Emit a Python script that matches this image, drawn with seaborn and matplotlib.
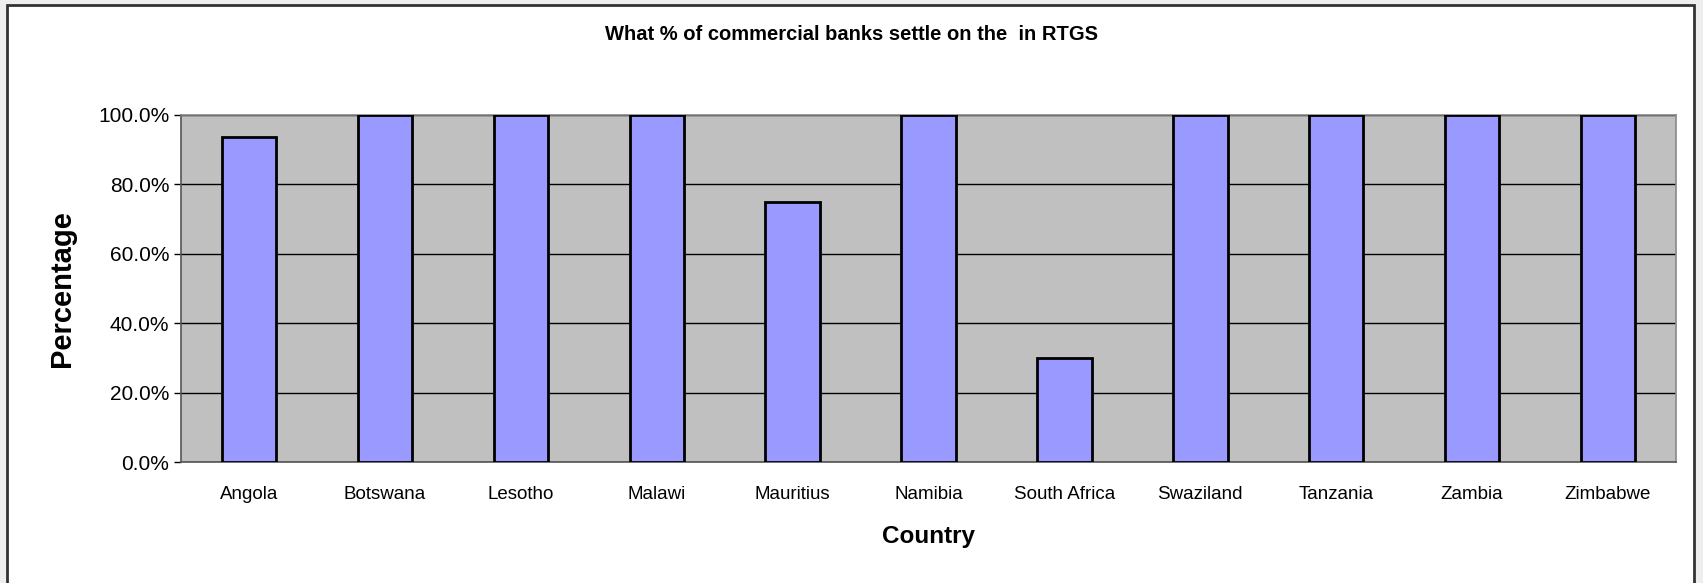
import matplotlib
matplotlib.use("Agg")
import matplotlib.pyplot as plt
import matplotlib.patches as mpatches
from matplotlib.ticker import PercentFormatter
import numpy as np
import seaborn as sns

countries = ["Angola", "Botswana", "Lesotho", "Malawi", "Mauritius", "Namibia",
             "South Africa", "Swaziland", "Tanzania", "Zambia", "Zimbabwe"]
values = [0.9375, 1.0, 1.0, 1.0, 0.75, 1.0, 0.30, 1.0, 1.0, 1.0, 1.0]
yticks = [0.0, 0.2, 0.4, 0.6, 0.8, 1.0]
title = "What % of commercial banks settle on the  in RTGS"

sns.set_style("white")
plt.rcParams['font.family'] = ['Liberation Sans', 'DejaVu Sans']

W, H = 1703, 583
fig = plt.figure(figsize=(W / 100, H / 100), dpi=100, facecolor="#eeeeee")
# outer chart border
fig.patches.append(mpatches.Rectangle((7 / W, -0.02), (1694 - 7) / W, 1 - 5 / H + 0.02,
                                      transform=fig.transFigure, facecolor="white",
                                      edgecolor="#333333", linewidth=2, zorder=-10))

ax = fig.add_axes([181 / W, 1 - 462 / H, (1676 - 181) / W, (462 - 115) / H])
ax.set_facecolor("#C0C0C0")

sns.barplot(x=countries, y=values, color="#9999FF", saturation=1, width=0.4,
            edgecolor="black", linewidth=2, ax=ax, zorder=3)

ax.set_ylim(0, 1.0)
ax.set_xlim(-0.5, len(countries) - 0.5)
ax.set_yticks(yticks)
ax.yaxis.set_major_formatter(PercentFormatter(1.0, decimals=1))
ax.grid(axis="y", color="black", linewidth=1, zorder=1)
ax.grid(axis="x", visible=False)
ax.set_axisbelow(True)

ax.set_xticks(np.arange(len(countries)))
ax.set_xticks(np.arange(-0.5, len(countries), 1), minor=True)
ax.tick_params(axis="x", which="major", length=0, labelsize=13.5, pad=17, colors="black")
ax.tick_params(axis="x", which="minor", length=5, width=1, color="black")
ax.tick_params(axis="y", length=5, width=1, color="black", labelsize=15, left=True,
               labelcolor="black")

for s in ["left", "bottom"]:
    ax.spines[s].set_color("#555555")
    ax.spines[s].set_linewidth(1.2)
for s in ["top", "right"]:
    ax.spines[s].set_color("#888888")
    ax.spines[s].set_linewidth(1.2)

ax.set_xlabel("Country", fontsize=17.5, fontweight="bold", labelpad=16, color="black")
ax.set_ylabel("Percentage", fontsize=21, fontweight="bold", labelpad=16, color="black")

fig.text(0.5, 1 - 35 / H, title, ha="center", va="center", fontsize=14.5,
         fontweight="bold", color="black")

fig.savefig("out.png", dpi=100, facecolor=fig.get_facecolor())
